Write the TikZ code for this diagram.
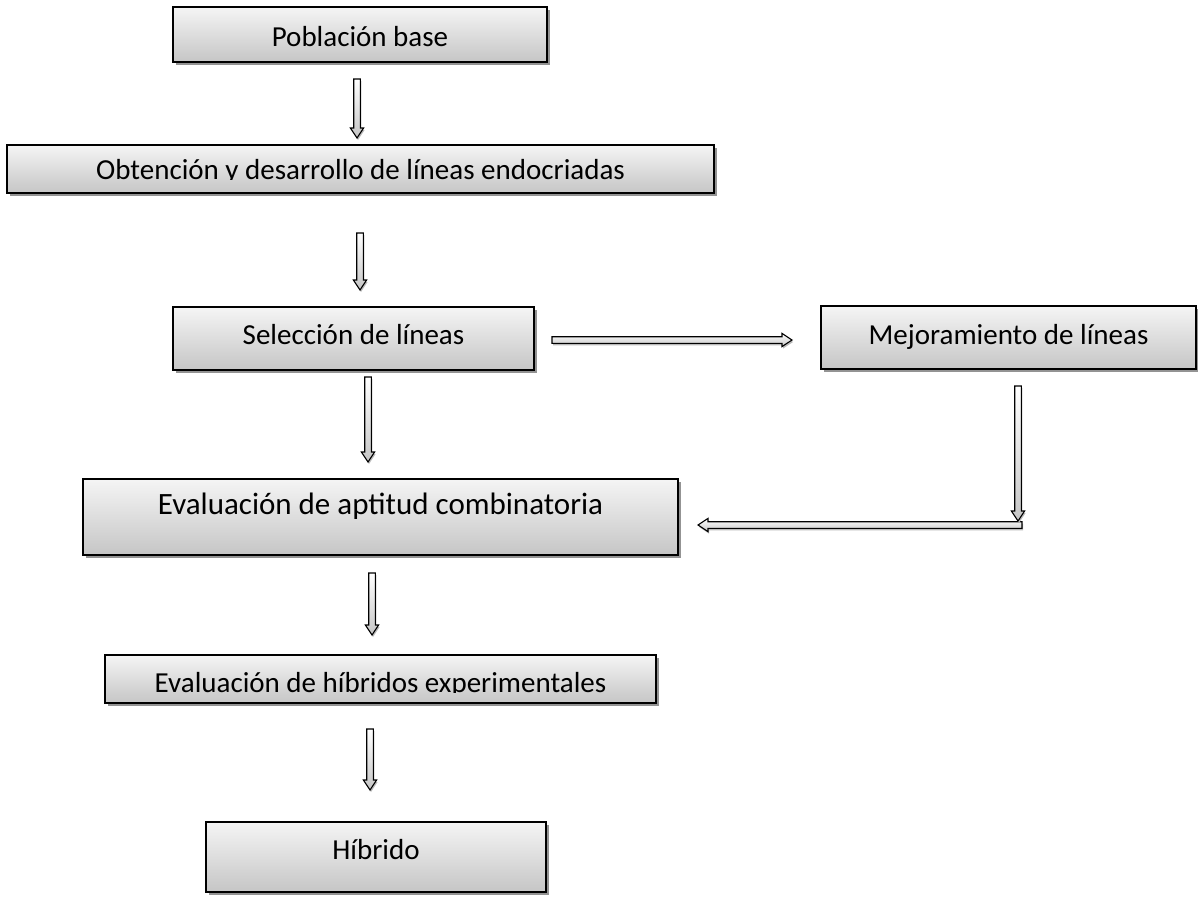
\documentclass[tikz,border=0pt]{standalone}
\usepackage{fontspec}
\setmainfont{Carlito}
\usetikzlibrary{calc,shadows}
\begin{document}
\begin{tikzpicture}[x=1pt,y=-1pt,
  box/.style={draw=black, line width=1.4pt, top color=gray!8, bottom color=gray!45,
    drop shadow={shadow xshift=3pt, shadow yshift=-3pt, fill=gray!85, opacity=1},
    inner sep=0pt, outer sep=0pt, anchor=north west},
  lbl/.style={font=\fontsize{29}{34}\selectfont, anchor=base, inner sep=0pt},
  harrow/.style={draw=black, line width=1.1pt, top color=white, bottom color=gray!45,
    drop shadow={shadow xshift=1pt, shadow yshift=-2pt, fill=gray!55, opacity=1},
    to path={
      ($(\tikztostart)!3.3pt!90:(\tikztotarget)$)
      -- ($(\tikztotarget)!10pt!(\tikztostart)!3.3pt!-90:(\tikztostart)$)
      -- ($(\tikztotarget)!10pt!(\tikztostart)!6.6pt!-90:(\tikztostart)$)
      -- (\tikztotarget)
      -- ($(\tikztotarget)!10pt!(\tikztostart)!6.6pt!90:(\tikztostart)$)
      -- ($(\tikztotarget)!10pt!(\tikztostart)!3.3pt!90:(\tikztostart)$)
      -- ($(\tikztostart)!3.3pt!-90:(\tikztotarget)$)
      -- cycle}}
]
\useasboundingbox (0,0) rectangle (1198,897);

% boxes
\node[box, minimum width=374pt, minimum height=55pt] (b1) at (173,7) {};
\node[box, minimum width=707pt, minimum height=48pt] (b2) at (7,145) {};
\node[box, minimum width=361pt, minimum height=63pt] (b3) at (173,307) {};
\node[box, minimum width=375pt, minimum height=63pt] (b4) at (821,306) {};
\node[box, minimum width=595pt, minimum height=76pt] (b5) at (83,479) {};
\node[box, minimum width=551pt, minimum height=48pt] (b6) at (105,655) {};
\node[box, minimum width=340pt, minimum height=70pt] (b7) at (206,822) {};

% labels
\node[lbl] (t1) at (b1.center |- 0,46) {Población base};
\begin{scope}
  \clip (7,146) rectangle (714,179.4);
  \node[lbl] (t2) at (b2.center |- 0,179) {Obtención y desarrollo de líneas endocriadas};
\end{scope}
\node[lbl] (t3) at (b3.center |- 0,344) {Selección de líneas};
\node[lbl] (t4) at (b4.center |- 0,344) {Mejoramiento de líneas};
\node[lbl, font=\fontsize{31}{36}\selectfont] (t5) at (b5.center |- 0,514) {Evaluación de aptitud combinatoria};
\begin{scope}
  \clip (105,656) rectangle (656,692.4);
  \node[lbl] (t6) at (b6.center |- 0,692) {Evaluación de híbridos experimentales};
\end{scope}
\node[lbl] (t7) at (b7.center |- 0,859) {Híbrido};

% arrow end points
\coordinate (a1s) at (357,79);  \coordinate (a1e) at (357,138);
\coordinate (a2s) at (360,233); \coordinate (a2e) at (360,290);
\coordinate (a3s) at (368,377); \coordinate (a3e) at (368,462);
\coordinate (a4s) at (552,340); \coordinate (a4e) at (792,340);
\coordinate (a5s) at (1018,386); \coordinate (a5e) at (1018,521);
\coordinate (a6s) at (1022,525); \coordinate (a6e) at (698,525);
\coordinate (a7s) at (372,573); \coordinate (a7e) at (372,635);
\coordinate (a8s) at (370,729); \coordinate (a8e) at (370,790);

\draw[harrow] (a1s) to (a1e);
\draw[harrow] (a2s) to (a2e);
\draw[harrow] (a3s) to (a3e);
\draw[harrow] (a4s) to (a4e);
\draw[harrow] (a6s) to (a6e);
\draw[harrow] (a5s) to (a5e);
\draw[harrow] (a7s) to (a7e);
\draw[harrow] (a8s) to (a8e);
\end{tikzpicture}
\end{document}
